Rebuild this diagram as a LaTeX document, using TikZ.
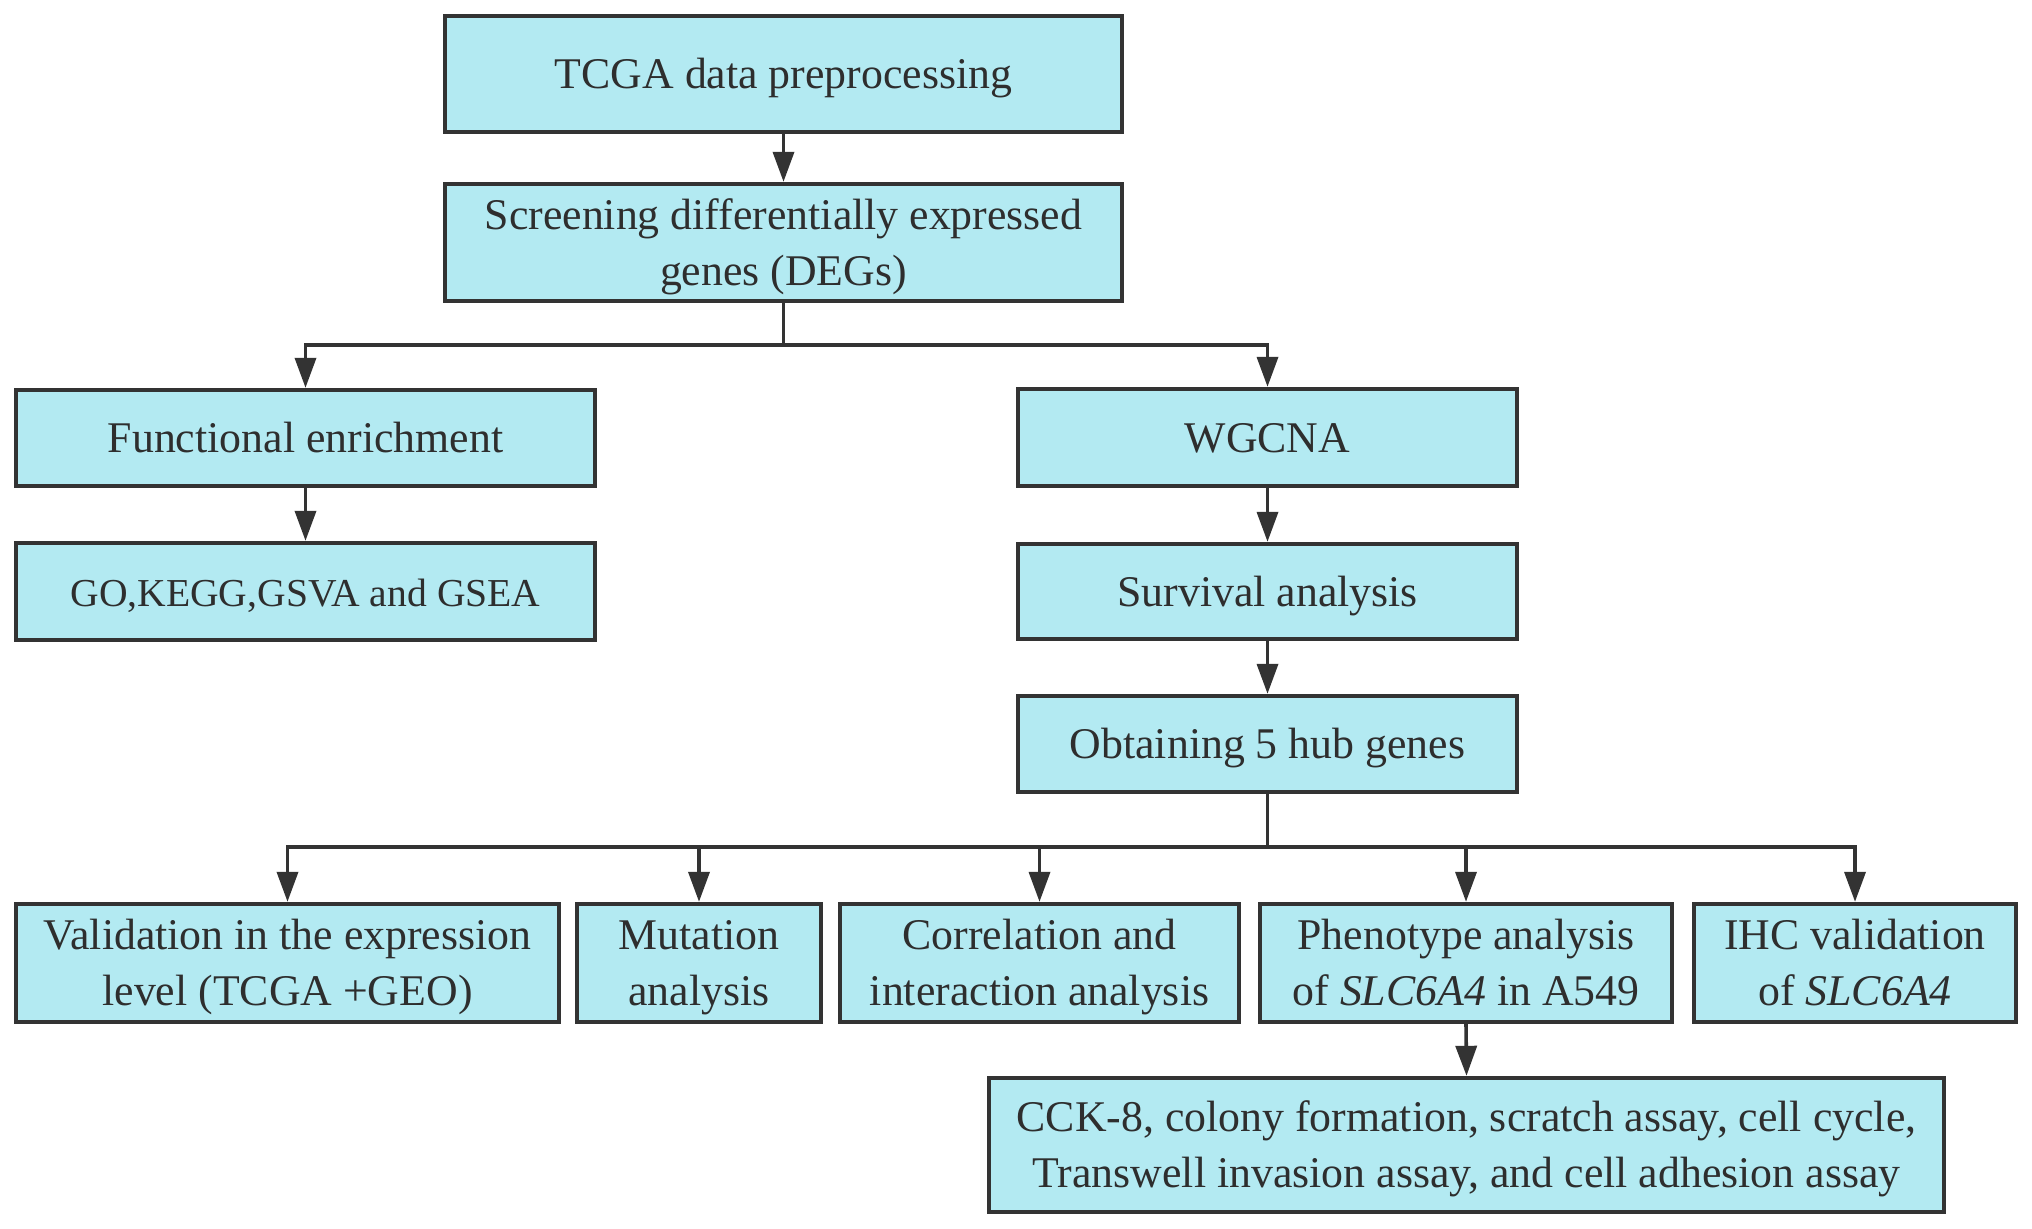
\documentclass[tikz,border=0pt]{standalone}
\usepackage{fontspec}
\setmainfont{Liberation Serif}
\usetikzlibrary{arrows.meta}
\definecolor{boxfill}{HTML}{B3EAF2}
\definecolor{boxline}{HTML}{333333}
\definecolor{txt}{HTML}{2E2E2E}
\newcommand\mytstrut{\rule{0pt}{19.5pt}}
\newcommand\mybstrut{\rule[-5pt]{0pt}{5pt}}
\begin{document}
\begin{tikzpicture}[x=0.5pt,y=-0.5pt,
  box/.style={draw=boxline, fill=boxfill, line width=2.2pt, inner sep=0pt, align=center, text=txt,
    font=\fontsize{21.9}{28}\selectfont},
  arr/.style={draw=boxline, line width=1.8pt, -{Triangle[length=15pt,width=10.5pt]}},
  ln/.style={draw=boxline, line width=1.8pt}]
\useasboundingbox (0,0) rectangle (2032,1228);
\fill[white] (0,0) rectangle (2032,1228);
\node[box, minimum width=338.5pt, minimum height=58pt] (tcga) at (783.5,74) {\mytstrut TCGA data preprocessing\mybstrut};
\node[box, minimum width=338.5pt, minimum height=58.5pt] (screen) at (783.5,242.5) {\mytstrut Screening differentially expressed\\genes (DEGs)\mybstrut};
\node[box, minimum width=289.5pt, minimum height=48pt] (func) at (305.5,438) {\mytstrut Functional enrichment\mybstrut};
\node[box, minimum width=289.5pt, minimum height=48.5pt, font=\fontsize{19.8}{28}\selectfont] (go) at (305.5,591.5) {\mytstrut GO,KEGG,GSVA and GSEA\mybstrut};
\node[box, minimum width=249.5pt, minimum height=48.5pt] (wgcna) at (1267.5,437.5) {\mytstrut WGCNA\mybstrut};
\node[box, minimum width=249.5pt, minimum height=47.5pt] (surv) at (1267.5,591.5) {\mytstrut Survival analysis\mybstrut};
\node[box, minimum width=249.5pt, minimum height=48pt] (hub) at (1267.5,744) {\mytstrut Obtaining 5 hub genes\mybstrut};
\node[box, minimum width=271.5pt, minimum height=59pt] (val) at (287.5,963) {\mytstrut Validation in the expression\\level (TCGA +GEO)\mybstrut};
\node[box, minimum width=122pt, minimum height=59pt] (mut) at (699,963) {\mytstrut Mutation\\analysis\mybstrut};
\node[box, minimum width=199.5pt, minimum height=59pt] (cor) at (1039.5,963) {\mytstrut Correlation and\\interaction analysis\mybstrut};
\node[box, minimum width=206pt, minimum height=59pt] (phe) at (1466,963) {\mytstrut Phenotype analysis\\of \textit{SLC6A4} in A549\mybstrut};
\node[box, minimum width=161pt, minimum height=59pt] (ihc) at (1855,963) {\mytstrut IHC validation\\of \textit{SLC6A4}\mybstrut};
\node[box, minimum width=477.5pt, minimum height=67pt] (cck) at (1466.5,1145) {\mytstrut CCK-8, colony formation, scratch assay, cell cycle,\\Transwell invasion assay, and cell adhesion assay\mybstrut};
\coordinate (br1) at (783.5,345);
\coordinate (br2) at (1267.5,847);
\draw[arr] (tcga.south) -- (screen.north);
\draw[ln] (screen.south) -- (br1);
\draw[arr] (br1) -| (func.north);
\draw[arr] (br1) -| (wgcna.north);
\draw[arr] (func.south) -- (go.north);
\draw[arr] (wgcna.south) -- (surv.north);
\draw[arr] (surv.south) -- (hub.north);
\draw[ln] (hub.south) -- (br2);
\draw[arr] (br2) -| (val.north);
\draw[arr] (br2) -| (mut.north);
\draw[arr] (br2) -| (cor.north);
\draw[arr] (br2) -| (phe.north);
\draw[arr] (br2) -| (ihc.north);
\draw[arr] (phe.south) -- (cck.north);
\end{tikzpicture}
\end{document}
